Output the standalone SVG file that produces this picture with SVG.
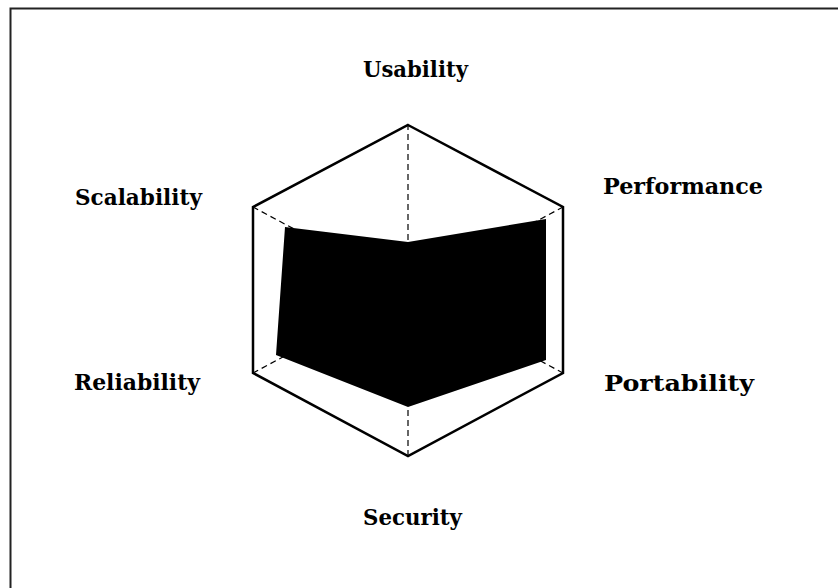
<svg xmlns="http://www.w3.org/2000/svg" width="838" height="588" viewBox="0 0 838 588">
<style>
.lbl{font-family:"DejaVu Serif","Liberation Serif",serif;font-weight:bold;font-size:22px;fill:#000}
.axis{stroke:#000;stroke-width:1.2;stroke-dasharray:6 4;fill:none}
.frame{stroke:#222;stroke-width:2;fill:none}
</style>
<rect width="838" height="588" fill="#fff"/>
<path class="frame" d="M10.5,588 V8.5 H838"/>
<g id="grid">
<polygon id="outline" points="408,125 563,207 563,373 408,456 253,373 253,207" fill="none" stroke="#000" stroke-width="2.5" stroke-linejoin="miter"/>
</g>
<g id="connectors">
<line class="axis" x1="408" y1="290" x2="408" y2="125"/>
<line class="axis" x1="408" y1="290" x2="563" y2="207"/>
<line class="axis" x1="408" y1="290" x2="563" y2="373"/>
<line class="axis" x1="408" y1="290" x2="408" y2="456"/>
<line class="axis" x1="408" y1="290" x2="253" y2="373"/>
<line class="axis" x1="408" y1="290" x2="253" y2="207"/>
</g>
<g id="data">
<polygon points="408,242 546,219 546,360 408,407 276,355 285,227" fill="#000"/>
</g>
<g id="usability"><text class="lbl" x="363" y="77" textLength="105" lengthAdjust="spacingAndGlyphs">Usability</text></g>
<g id="performance"><text class="lbl" x="603" y="194" textLength="160" lengthAdjust="spacingAndGlyphs">Performance</text></g>
<g id="portability"><text class="lbl" x="604" y="391" textLength="150" lengthAdjust="spacingAndGlyphs">Portability</text></g>
<g id="security"><text class="lbl" x="363" y="525" textLength="99" lengthAdjust="spacingAndGlyphs">Security</text></g>
<g id="reliability"><text class="lbl" x="74" y="390" textLength="126" lengthAdjust="spacingAndGlyphs">Reliability</text></g>
<g id="scalability"><text class="lbl" x="75" y="205" textLength="127" lengthAdjust="spacingAndGlyphs">Scalability</text></g>
</svg>
